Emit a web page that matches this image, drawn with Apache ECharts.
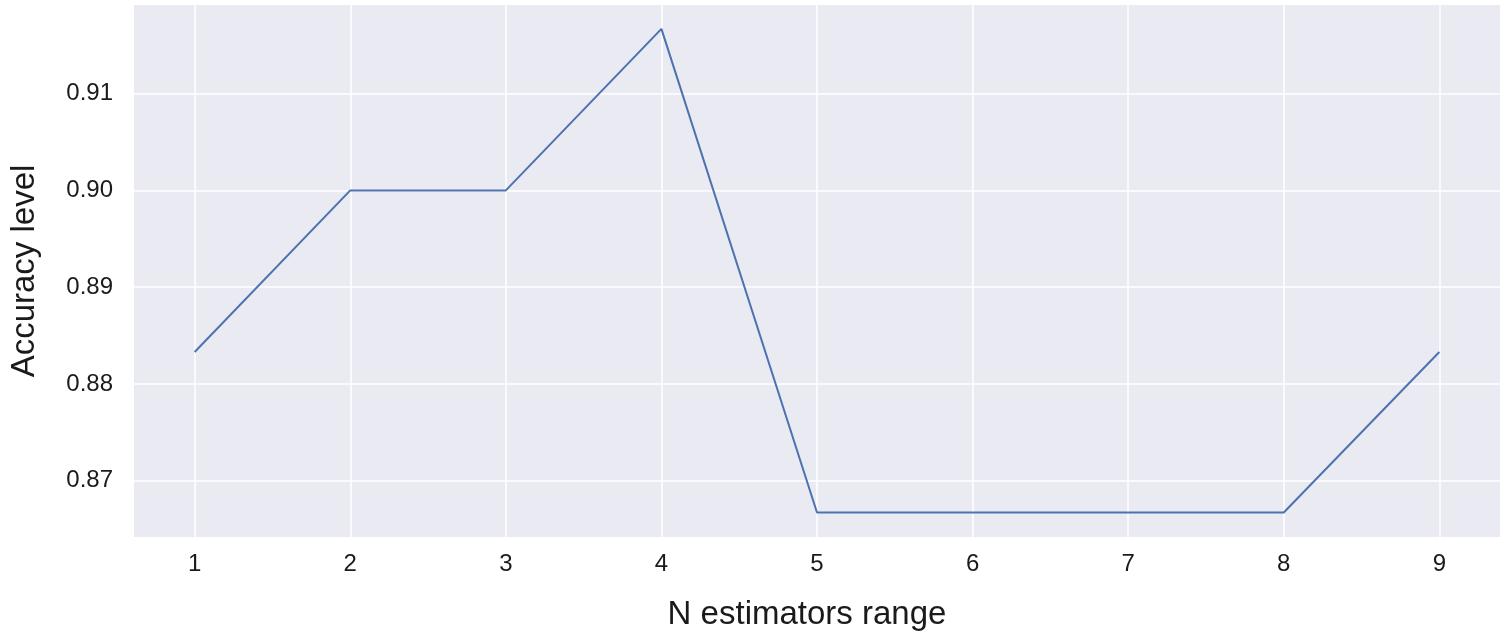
<!DOCTYPE html>
<html>
<head>
<meta charset="utf-8">
<script src="https://cdn.jsdelivr.net/npm/echarts@6/dist/echarts.min.js"></script>
<style>html,body{margin:0;padding:0;background:#fff}#c{width:1505px;height:639px}</style>
</head>
<body>
<div id="c"></div>
<script>
const xValues = [1, 2, 3, 4, 5, 6, 7, 8, 9];
const accuracy = [0.8833, 0.9000, 0.9000, 0.9167, 0.8667, 0.8667, 0.8667, 0.8667, 0.8833];
const xTicks = [1, 2, 3, 4, 5, 6, 7, 8, 9];
const yTicks = [0.87, 0.88, 0.89, 0.90, 0.91];

const chart = echarts.init(document.getElementById('c'), null, {renderer: 'canvas'});
const font = 'Liberation Sans, Arial, sans-serif';
chart.setOption({
  animation: false,
  grid: {left: 131, right: 5, top: 5, bottom: 102, show: true, backgroundColor: '#eaeaf2', borderWidth: 0},
  xAxis: {
    type: 'value', min: 0.61, max: 9.39,
    name: 'N estimators range', nameLocation: 'middle', nameGap: 61,
    nameTextStyle: {fontFamily: font, fontSize: 33, color: '#1a1a1a', padding: [0, 20, 0, 0]},
    axisLine: {show: false},
    axisTick: {show: false, customValues: xTicks},
    axisLabel: {customValues: xTicks, margin: 15, fontFamily: font, fontSize: 24, color: '#1a1a1a'},
    splitLine: {show: true, lineStyle: {color: '#ffffff', width: 1.5}}
  },
  yAxis: {
    type: 'value', min: 0.86417, max: 0.91917,
    name: 'Accuracy level', nameLocation: 'middle', nameGap: 93,
    nameTextStyle: {fontFamily: font, fontSize: 33, color: '#1a1a1a'},
    axisLine: {show: false},
    axisTick: {show: false, customValues: yTicks},
    axisLabel: {customValues: yTicks, margin: 21, fontFamily: font, fontSize: 24, color: '#1a1a1a',
      formatter: v => v.toFixed(2)},
    splitLine: {show: true, lineStyle: {color: '#ffffff', width: 1.5}}
  },
  series: [{
    type: 'line',
    data: xValues.map((x, i) => [x, accuracy[i]]),
    showSymbol: false,
    lineStyle: {color: '#4c72b0', width: 2},
    itemStyle: {color: '#4c72b0'}
  }]
});
</script>
</body>
</html>
